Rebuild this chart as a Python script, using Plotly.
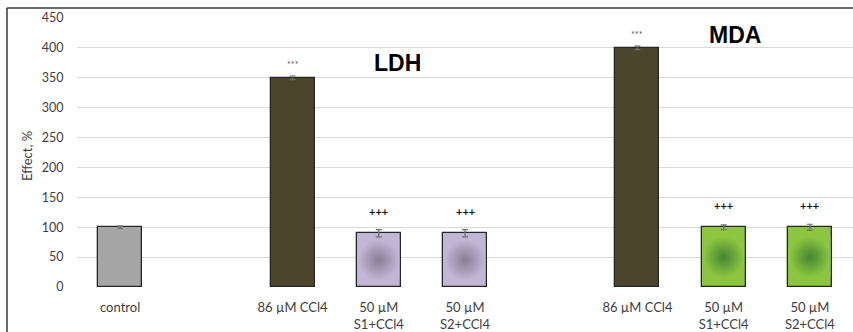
import plotly.graph_objects as go

# ---- data ----
cat_ids = ["control", "gap1", "LDH_CCl4", "LDH_S1", "LDH_S2", "gap2", "MDA_CCl4", "MDA_S1", "MDA_S2"]
tick_labels = ["control", "", "86 µM CCl4", "50 µM<br>S1+CCl4", "50 µM<br>S2+CCl4", "",
               "86 µM CCl4", "50 µM<br>S1+CCl4", "50 µM<br>S2+CCl4"]
bar_ids = ["control", "LDH_CCl4", "LDH_S1", "LDH_S2", "MDA_CCl4", "MDA_S1", "MDA_S2"]
bar_values = [100, 350, 90, 90, 400, 100, 100]
bar_errors = [2, 3, 6, 6, 3, 4, 5]
bar_colors = ["#a6a6a6", "#4b452c", "#c2b6d6", "#c2b6d6", "#4b452c", "#8cc640", "#8cc640"]
center_colors = [None, None, "#867e94", "#867e94", None, "#458532", "#458532"]
sig_labels = ["", "***", "+++", "+++", "***", "+++", "+++"]
group_titles = ["LDH", "MDA"]
group_title_y = [375, 421]
group_title_x = ["LDH_S1", "MDA_S1"]
group_title_shift = [19, 11]
y_ticks = [0, 50, 100, 150, 200, 250, 300, 350, 400, 450]
y_title = "Effect, %"

W, H = 853, 332
ML, MR, MT, MB = 77, 0, 18, 43
slot_px = (W - ML - MR) / len(cat_ids)
bar_w = 0.51
font = "Lato, 'Open Sans', sans-serif"

fig = go.Figure()
fig.add_trace(go.Bar(
    x=bar_ids, y=bar_values, width=bar_w,
    marker=dict(color=bar_colors, line=dict(color="#262626", width=1.3)),
    showlegend=False, hoverinfo="skip",
))

# radial shading inside gradient bars
gx, gy, gc, gcc = [], [], [], []
for bid, v, c, cc in zip(bar_ids, bar_values, bar_colors, center_colors):
    if cc:
        gx.append(bid); gy.append(v / 2); gc.append(c); gcc.append(cc)
fig.add_trace(go.Scatter(
    x=gx, y=gy, mode="markers",
    marker=dict(symbol="square", size=bar_w * slot_px - 3, color=gc,
                gradient=dict(type="radial", color=gcc), line=dict(width=0)),
    showlegend=False, hoverinfo="skip",
))
# error bars on top of the shading
fig.add_trace(go.Scatter(
    x=bar_ids, y=bar_values, mode="markers", marker=dict(size=0, opacity=0),
    error_y=dict(type="data", array=bar_errors, color="#6f6f6f", thickness=1.2, width=3),
    showlegend=False, hoverinfo="skip",
))

for bid, v, e, s in zip(bar_ids, bar_values, bar_errors, sig_labels):
    if not s:
        continue
    star = s.startswith("*")
    fig.add_annotation(
        x=bid, y=v, text=s, showarrow=False, yanchor="middle",
        yshift=(13 if star else 22),
        font=dict(family=font, size=(9 if star else 11), color=("#555555" if star else "#111111"),
                  weight=("normal" if star else "bold")),
    )

for t, tx, ty, sh in zip(group_titles, group_title_x, group_title_y, group_title_shift):
    fig.add_annotation(x=tx, y=ty, text="<b>" + t + "</b>", showarrow=False, xshift=sh,
                       font=dict(family="Liberation Sans, Arial, sans-serif", size=23, color="#000000"))

plot_w = W - ML - MR
plot_h = H - MT - MB

# y-axis title
fig.add_annotation(xref="paper", yref="paper", x=(27 - ML) / plot_w, y=(289 - 157) / plot_h,
                   xanchor="center", yanchor="middle",
                   text=y_title, textangle=-90, showarrow=False,
                   font=dict(family=font, size=13, color="#404040"))

# outer frame (chart-area border, cut off at right/bottom)
fx0 = (7 - ML) / plot_w
fy1 = 1 + (MT - 8) / plot_h
fig.add_shape(type="line", xref="paper", yref="paper", x0=fx0, x1=1.05, y0=fy1, y1=fy1,
              line=dict(color="#3a3a3a", width=1.5))
fig.add_shape(type="line", xref="paper", yref="paper", x0=fx0, x1=fx0, y0=fy1, y1=-0.3,
              line=dict(color="#3a3a3a", width=1.5))

fig.update_layout(
    width=W, height=H,
    margin=dict(l=ML, r=MR, t=MT, b=MB),
    paper_bgcolor="white", plot_bgcolor="white",
    bargap=0,
    font=dict(family=font, size=12, color="#404040"),
    xaxis=dict(
        type="category", categoryorder="array", categoryarray=cat_ids,
        tickmode="array", tickvals=cat_ids, ticktext=tick_labels,
        range=[-0.5, len(cat_ids) - 0.5],
        showgrid=False, zeroline=False, showline=False,
        ticks="outside", ticklen=8, tickcolor="rgba(0,0,0,0)",
        tickfont=dict(family=font, size=13, color="#404040"),
    ),
    yaxis=dict(
        range=[0, 450], tickvals=y_ticks,
        showgrid=True, gridcolor="#d9d9d9", gridwidth=1,
        zeroline=False, showline=False,
        ticks="outside", ticklen=10, tickcolor="rgba(0,0,0,0)",
        tickfont=dict(family=font, size=12.5, color="#404040"),
    ),
)

fig.write_html("out.html")
